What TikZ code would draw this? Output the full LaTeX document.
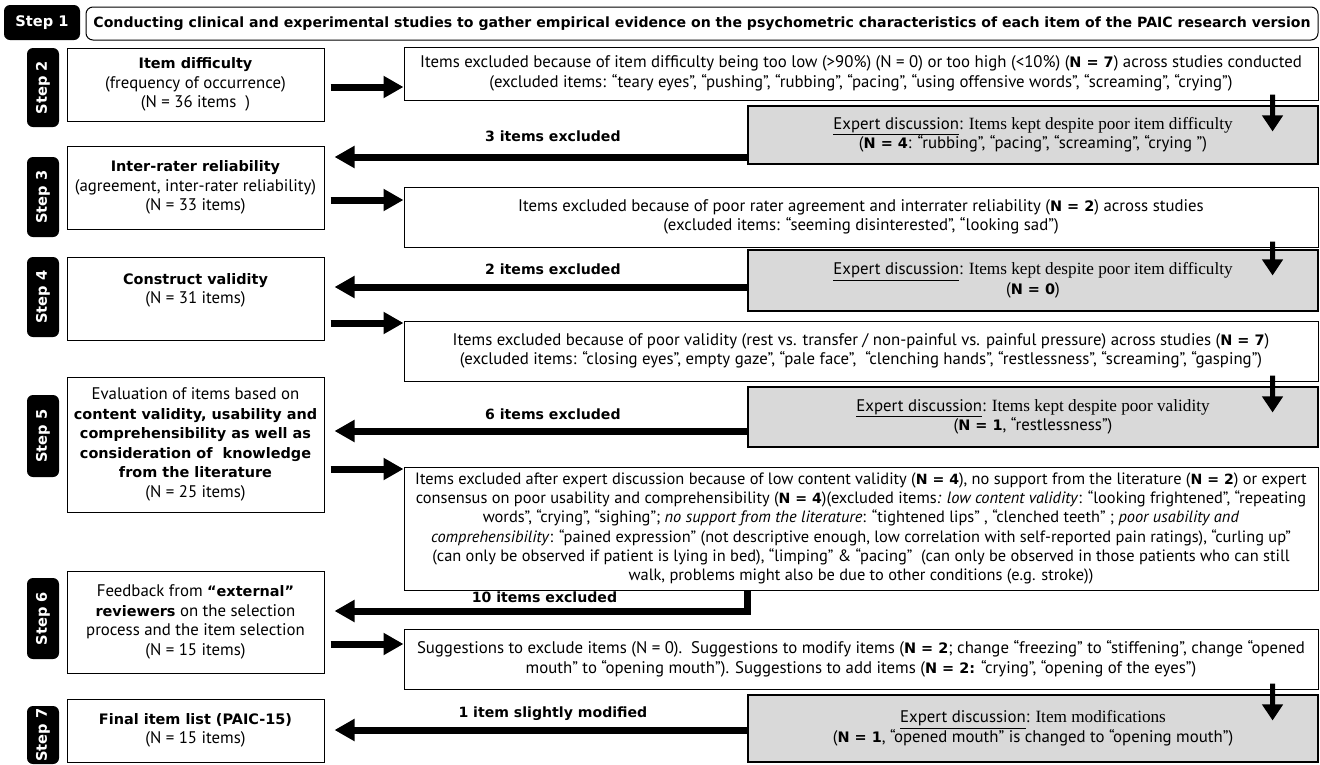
\documentclass[tikz,border=0pt]{standalone}
\usepackage{fontspec}
\setmainfont{PT Sans}
\newfontfamily\hb{DejaVu Sans}[Scale=0.86]
\newfontfamily\serifline{Liberation Serif}
\usepackage{xcolor}
\usetikzlibrary{arrows.meta}
\definecolor{discgray}{RGB}{217,217,217}
\newcommand{\hbf}[1]{{\hb\bfseries #1}}
\newcommand{\serifpart}[1]{{\fontsize{17.2}{19.5}\selectfont\serifline #1}}

\tikzset{
  stepbox/.style={fill=black,rounded corners=6pt,text=white,inner sep=0pt,font=\fontsize{17}{20}\selectfont\hb\bfseries},
  leftbox/.style={draw,line width=1pt,align=center,inner sep=0pt,minimum width=257pt,font=\fontsize{16.8}{19.5}\selectfont},
  exclbox/.style={draw,line width=1pt,align=center,inner sep=0pt,minimum width=914pt,font=\fontsize{16.8}{19.5}\selectfont},
  discbox/.style={draw,line width=1.1pt,fill=discgray,align=center,inner sep=0pt,minimum width=570pt,font=\fontsize{16.8}{19.5}\selectfont},
  fwd/.style={line width=7pt,-{Triangle[length=20pt,width=21pt]}},
  dwn/.style={line width=5pt,-{Triangle[length=16pt,width=20pt]}},
  cnt/.style={font=\fontsize{16.4}{19.5}\selectfont\hb\bfseries,inner sep=0pt}
}

\begin{document}
\begin{tikzpicture}[x=1pt,y=-1pt]
  \useasboundingbox (0,0) rectangle (1320,764);

  \node[stepbox,minimum width=76pt,minimum height=35pt] (t1) at (42,22.5) {Step 1};
  \node[draw,line width=1pt,rounded corners=7pt,minimum width=1232pt,minimum height=33pt,inner sep=0pt,
        font=\fontsize{16.4}{19.5}\selectfont\hb\bfseries] (title) at (702,23.5)
       {Conducting clinical and experimental studies to gather empirical evidence on the psychometric characteristics of each item of the PAIC research version};

  \node[stepbox,rotate=90,minimum width=79pt,minimum height=32pt] (t2) at (43,87.5) {Step 2};
  \node[stepbox,rotate=90,minimum width=80pt,minimum height=32pt] (t3) at (43,197) {Step 3};
  \node[stepbox,rotate=90,minimum width=80pt,minimum height=32pt] (t4) at (43,297) {Step 4};
  \node[stepbox,rotate=90,minimum width=82pt,minimum height=32pt] (t5) at (43,436) {Step 5};
  \node[stepbox,rotate=90,minimum width=81pt,minimum height=32pt] (t6) at (43,618.5) {Step 6};
  \node[stepbox,rotate=90,minimum width=58pt,minimum height=32pt] (t7) at (43,735) {Step 7};

  \node[leftbox,minimum height=73pt] (s2) at (195.5,84.5)
       {{\hb\bfseries Item difficulty}\\(frequency of occurrence)\\(N = 36 items\ \ )};
  \node[leftbox,minimum height=83pt] (s3) at (195.5,187.5)
       {{\hb\bfseries Inter-rater reliability}\\(agreement, inter-rater reliability)\\(N = 33 items)};
  \node[leftbox,minimum height=83pt] (s4) at (195.5,298.5)
       {{\hb\bfseries Construct validity}\\(N = 31 items)\\ \mbox{}};
  \node[leftbox,minimum height=135pt] (s5) at (195.5,444.5)
       {Evaluation of items based on\\{\hb\bfseries content validity, usability and}\\{\hb\bfseries comprehensibility as well as}\\
        {\hb\bfseries consideration of\ \ knowledge}\\{\hb\bfseries from the literature}\\(N = 25 items)};
  \node[leftbox,minimum height=102pt] (s6) at (195.5,622)
       {Feedback from \hbf{“external”}\\\hbf{reviewers} on the selection\\process and the item selection\\(N = 15 items)};
  \node[leftbox,minimum height=63pt] (s7) at (195.5,730.5)
       {{\hb\bfseries Final item list (PAIC-15)}\\(N = 15 items)};

  \node[exclbox,minimum height=53pt] (e1) at (861,73.5)
       {Items excluded because of item difficulty being too low (>90\%) (N = 0) or too high (<10\%) (\hbf{N = 7}) across studies conducted\\
        (excluded items: “teary eyes”, “pushing”, “rubbing”, “pacing”, “using offensive words”, “screaming”, “crying”)};
  \node[exclbox,minimum height=60pt] (e2) at (861,217)
       {Items excluded because of poor rater agreement and interrater reliability (\hbf{N = 2}) across studies\\
        (excluded items: “seeming disinterested”, “looking sad”)};
  \node[exclbox,minimum height=60pt] (e3) at (861,351)
       {Items excluded because of poor validity (rest vs. transfer / non-painful vs. painful pressure) across studies (\hbf{N = 7})\\
        (excluded items: “closing eyes”, empty gaze”, “pale face”,\ \ “clenching hands”, “restlessness”, “screaming”, “gasping”)};
  \node[exclbox,minimum height=123pt,font=\fontsize{16.4}{19.2}\selectfont] (e4) at (861,528.5)
       {Items excluded after expert discussion because of low content validity (\hbf{N = 4}), no support from the literature (\hbf{N =\ 2}) or expert\\
        consensus on poor usability and comprehensibility (\hbf{N = 4})(excluded items\textit{: low content validity}: “looking frightened”, “repeating\\
        words”, “crying”, “sighing”; \textit{no support from the literature}: “tightened lips” , “clenched teeth” ; \textit{poor usability and}\\
        \textit{comprehensibility}: “pained expression” (not descriptive enough, low correlation with self-reported pain ratings), “curling up”\\
        (can only be observed if patient is lying in bed), “limping” \& “pacing”\ \ (can only be observed in those patients who can still\\
        walk, problems might also be due to other conditions (e.g. stroke))};
  \node[exclbox,minimum height=60pt] (e5) at (861,659)
       {Suggestions to exclude items (N = 0).\ \ Suggestions to modify items (\hbf{N = 2}; change “freezing” to “stiffening”, change “opened\\
        mouth” to “opening mouth”). Suggestions to add items (\hbf{N =\ 2:} “crying”, “opening of the eyes”)};

  \node[discbox,minimum height=58pt] (g1) at (1033,135)
       {\underline{Expert discussion}: \serifpart{Items kept despite poor item difficulty}\\
        (\hbf{N = 4}: “rubbing”, “pacing”, “screaming”, “crying ”)};
  \node[discbox,minimum height=61pt] (g2) at (1033,280.5)
       {\underline{Expert discussion}: \serifpart{Items kept despite poor item difficulty}\\(\hbf{N = 0})};
  \node[discbox,minimum height=60pt] (g3) at (1033,417)
       {\underline{Expert discussion}: \serifpart{Items kept despite poor validity}\\(\hbf{N =\ 1}, “restlessness”)};
  \node[discbox,minimum height=67pt] (g5) at (1033,728.5)
       {\underline{Expert discussion}: \serifpart{Item modifications}\\
        (\hbf{N = 1}, “opened mouth” is changed to “opening mouth”)};

  \draw[fwd,shorten <=6pt] ([yshift=-2.5pt]s2.east) -- ([yshift=-2.5pt]s2.east -| e1.west);
  \draw[fwd,shorten <=6pt] ([yshift=-12.5pt]s3.east) -- ([yshift=-12.5pt]s3.east -| e2.west);
  \draw[fwd,shorten <=6pt] ([yshift=-24.5pt]s4.east) -- ([yshift=-24.5pt]s4.east -| e3.west);
  \draw[fwd,shorten <=6pt] ([yshift=-24.5pt]s5.east) -- ([yshift=-24.5pt]s5.east -| e4.west);
  \draw[fwd,shorten <=6pt] ([yshift=-22pt]s6.east) -- ([yshift=-22pt]s6.east -| e5.west);

  \draw[dwn] ([shift={(-46pt,6pt)}]e1.south east) -- ([shift={(-46pt,-26pt)}]g1.north east);
  \draw[dwn] ([shift={(-46pt,6pt)}]e2.south east) -- ([shift={(-46pt,-26pt)}]g2.north east);
  \draw[dwn] ([shift={(-46pt,6pt)}]e3.south east) -- ([shift={(-46pt,-26pt)}]g3.north east);
  \draw[dwn] ([shift={(-46pt,6pt)}]e5.south east) -- ([shift={(-46pt,-26pt)}]g5.north east);

  \draw[fwd,shorten >=10pt] ([yshift=-22pt]g1.west) -- node[cnt,pos=0.46,above=12pt] {3 items excluded} ([yshift=-22pt]g1.west -| s3.east);
  \draw[fwd,shorten >=10pt] ([yshift=-6.5pt]g2.west) -- node[cnt,pos=0.46,above=9pt] {2 items excluded} ([yshift=-6.5pt]g2.west -| s4.east);
  \draw[fwd,shorten >=10pt] ([yshift=-14pt]g3.west) -- node[cnt,pos=0.46,above=8pt] {6 items excluded} ([yshift=-14pt]g3.west -| s5.east);
  \draw[fwd,shorten >=10pt] (g3.west |- e4.south) |- node[cnt,pos=0.74,above=5pt] {10 items excluded} ([yshift=11pt]s6.east);
  \draw[fwd,shorten >=10pt] ([yshift=-1.5pt]g5.west) -- node[cnt,pos=0.46,above=6pt] {1 item slightly modified} ([yshift=-1.5pt]g5.west -| s7.east);
\end{tikzpicture}
\end{document}
